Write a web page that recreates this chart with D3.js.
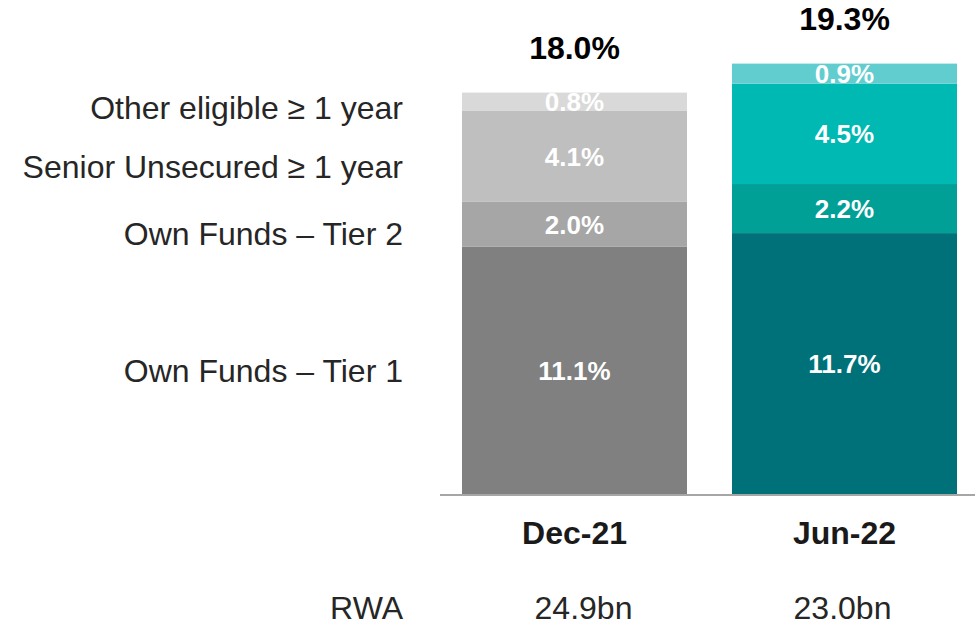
<!DOCTYPE html>
<html>
<head>
<meta charset="utf-8">
<script src="https://cdn.jsdelivr.net/npm/d3@7"></script>
<style>
  html, body { margin: 0; padding: 0; background: #fff; }
  svg { display: block; font-family: "Liberation Sans", Arial, sans-serif; }
</style>
</head>
<body>
<svg id="chart" width="975" height="625"></svg>
<script>
const periods = ["Dec-21", "Jun-22"];
const seriesNames = ["Own Funds – Tier 1", "Own Funds – Tier 2", "Senior Unsecured ≥ 1 year", "Other eligible ≥ 1 year"];
const tier1 = [11.1, 11.7];
const tier2 = [2.0, 2.2];
const senior = [4.1, 4.5];
const other = [0.8, 0.9];
const totals = ["18.0%", "19.3%"];
const rwa = ["24.9bn", "23.0bn"];
const rwaLabel = "RWA";

const greyColors = ["#808080", "#a6a6a6", "#bfbfbf", "#d9d9d9"];
const tealColors = ["#007179", "#00a097", "#00b9b3", "#62cdcf"];
const palettes = [greyColors, tealColors];

const svg = d3.select("#chart");
const x = d3.scaleBand().domain(periods).range([462, 957]).paddingInner(1/6).paddingOuter(0);
const y = d3.scaleLinear().domain([0, 20]).range([494, 48]);

const seriesValues = [tier1, tier2, senior, other];
const stackData = periods.map((p, i) => {
  const o = { period: p };
  seriesNames.forEach((s, k) => { o[s] = seriesValues[k][i]; });
  return o;
});
const stacked = d3.stack().keys(seriesNames)(stackData);

stacked.forEach((layer, k) => {
  layer.forEach((d, i) => {
    const p = periods[i];
    svg.append("rect")
      .attr("x", x(p))
      .attr("width", x.bandwidth())
      .attr("y", y(d[1]))
      .attr("height", y(d[0]) - y(d[1]))
      .attr("fill", palettes[i][k]);
  });
});

stacked.forEach((layer, k) => {
  layer.forEach((d, i) => {
    const p = periods[i];
    svg.append("text")
      .attr("x", x(p) + x.bandwidth() / 2)
      .attr("y", (y(d[0]) + y(d[1])) / 2)
      .attr("dy", "0.36em")
      .attr("text-anchor", "middle")
      .attr("font-size", 26)
      .attr("font-weight", "bold")
      .attr("fill", "#ffffff")
      .text(seriesValues[k][i].toFixed(1) + "%");
  });
});

// totals
periods.forEach((p, i) => {
  const top = stacked[stacked.length - 1][i][1];
  svg.append("text")
    .attr("x", x(p) + x.bandwidth() / 2)
    .attr("y", y(top) - 34)
    .attr("text-anchor", "middle")
    .attr("font-size", 32)
    .attr("font-weight", "bold")
    .attr("fill", "#000")
    .text(totals[i]);
});

// baseline
svg.append("line")
  .attr("x1", 440).attr("x2", 975)
  .attr("y1", y(0) + 1).attr("y2", y(0) + 1)
  .attr("stroke", "#a6a6a6").attr("stroke-width", 2);

// category labels
const xAxis = d3.axisBottom(x).tickSize(0).tickPadding(0);
const gx = svg.append("g").attr("transform", `translate(0,${y(0)})`).call(xAxis);
gx.select(".domain").remove();
gx.selectAll("text")
  .attr("y", 50)
  .attr("dy", 0)
  .attr("font-size", 32)
  .attr("font-weight", "bold")
  .attr("font-family", "Liberation Sans, Arial, sans-serif")
  .attr("fill", "#1a1a1a");

// RWA row
const rwaOffsets = [9, -2];
svg.append("text")
  .attr("x", 403).attr("y", 619)
  .attr("text-anchor", "end")
  .attr("font-size", 32)
  .attr("fill", "#262626")
  .text(rwaLabel);
periods.forEach((p, i) => {
  svg.append("text")
    .attr("x", x(p) + x.bandwidth() / 2 + rwaOffsets[i])
    .attr("y", 619)
    .attr("text-anchor", "middle")
    .attr("font-size", 32)
    .attr("fill", "#262626")
    .text(rwa[i]);
});

// left series labels, beside the Dec-21 segments
const labelOffsets = [0, 9, 10, 6];
stacked.forEach((layer, k) => {
  const d = layer[0];
  svg.append("text")
    .attr("x", 403)
    .attr("y", (y(d[0]) + y(d[1])) / 2 + labelOffsets[k])
    .attr("dy", "0.36em")
    .attr("text-anchor", "end")
    .attr("font-size", 32)
    .attr("fill", "#262626")
    .text(seriesNames[k]);
});
</script>
</body>
</html>
